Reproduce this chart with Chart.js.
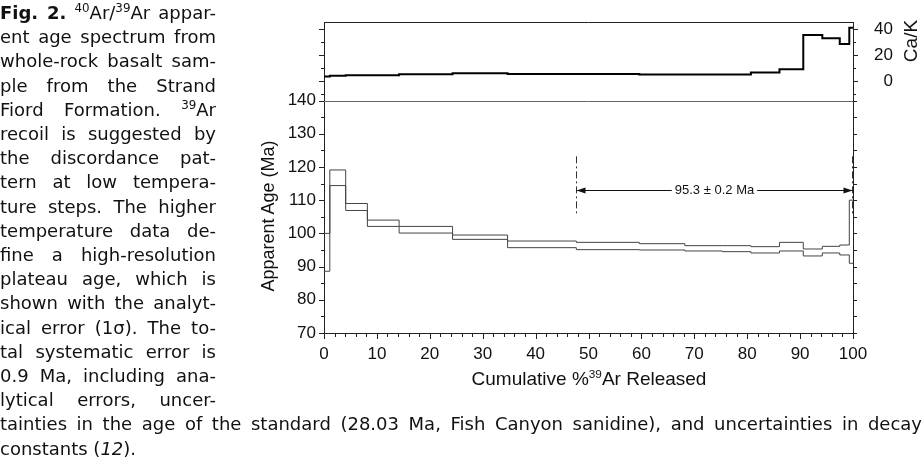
<!DOCTYPE html>
<html lang="en">
<head>
<meta charset="utf-8">
<title>Fig. 2 age spectrum</title>
<script src="https://cdn.jsdelivr.net/npm/chart.js@4.4.1/dist/chart.umd.min.js"></script>
<style>
  html, body { margin: 0; padding: 0; background: #fff; }
  body { position: relative; width: 924px; height: 462px; overflow: hidden; color: #111; }
  #ageChart { position: absolute; left: 0; top: 0; }
  .caption {
    position: absolute; left: 0; top: 1px;
    font-family: "DejaVu Sans", sans-serif; font-size: 18px; line-height: 24.2px;
  }
  .caption .line { width: 216px; white-space: nowrap; }
  .caption .line.wide { width: 922px; }
  .caption .line span { display: inline-block; transform-origin: 0 50%; }
  .caption sup { font-size: 0.66em; line-height: 0; vertical-align: 0.55em; }
  .axis-title {
    position: absolute; white-space: nowrap; color: #111;
    font-family: "Liberation Sans", Arial, sans-serif;
    transform: translate(-50%, -50%);
  }
  .axis-title.vertical { transform: translate(-50%, -50%) rotate(-90deg); }
  .axis-title sup { font-size: 0.62em; line-height: 0; vertical-align: 0.6em; }
</style>
</head>
<body>
<canvas id="ageChart" width="924" height="462"></canvas>

<div class="caption">
  <div class="line j"><span><b>Fig. 2.</b> <sup>40</sup>Ar/<sup>39</sup>Ar appar-</span></div>
  <div class="line j"><span>ent age spectrum from</span></div>
  <div class="line j"><span>whole-rock basalt sam-</span></div>
  <div class="line j"><span>ple from the Strand</span></div>
  <div class="line j"><span>Fiord Formation. <sup>39</sup>Ar</span></div>
  <div class="line j"><span>recoil is suggested by</span></div>
  <div class="line j"><span>the discordance pat-</span></div>
  <div class="line j"><span>tern at low tempera-</span></div>
  <div class="line j"><span>ture steps. The higher</span></div>
  <div class="line j"><span>temperature data de-</span></div>
  <div class="line j"><span>fine a high-resolution</span></div>
  <div class="line j"><span>plateau age, which is</span></div>
  <div class="line j"><span>shown with the analyt-</span></div>
  <div class="line j"><span>ical error (1σ). The to-</span></div>
  <div class="line j"><span>tal systematic error is</span></div>
  <div class="line j"><span>0.9 Ma, including ana-</span></div>
  <div class="line j"><span>lytical errors, uncer-</span></div>
  <div class="line wide j"><span>tainties in the age of the standard (28.03 Ma, Fish Canyon sanidine), and uncertainties in decay</span></div>
  <div class="line"><span>constants (<i>12</i>).</span></div>
</div>

<div class="axis-title vertical" style="left:268px; top:216px; font-size:18px;">Apparent Age (Ma)</div>
<div class="axis-title" style="left:589px; top:379px; font-size:19px;">Cumulative %<sup>39</sup>Ar Released</div>
<div class="axis-title vertical" style="left:911px; top:41px; font-size:19px;">Ca/K</div>

<script>
// heating steps: cumulative %39Ar at each step boundary
const stepEdges = [0, 1.1, 4.1, 8.2, 14.2, 24.3, 34.7, 47.7, 59.6, 68.2, 75.3, 80.7, 86.1, 90.6, 94.2, 97.5, 99.3, 100];
// apparent age (Ma), top and bottom of each 1 sigma box
const ageHigh = [100.0, 119.1, 109.0, 104.0, 102.1, 99.5, 97.7, 97.3, 96.9, 96.3, 96.3, 96.0, 97.3, 95.3, 96.1, 96.5, 110.0];
const ageLow = [88.6, 114.4, 106.9, 102.1, 100.1, 98.2, 95.7, 95.1, 95.0, 94.7, 94.5, 94.1, 94.7, 93.2, 94.1, 93.5, 91.0];
// Ca/K of each step
const caK = [3.5, 4.0, 4.5, 4.5, 5.3, 6.0, 5.5, 5.5, 5.0, 5.0, 5.0, 6.5, 9.0, 35.5, 33.0, 28.5, 41.0];

const xTickLabels = [0, 10, 20, 30, 40, 50, 60, 70, 80, 90, 100];
const ageTickLabels = [70, 80, 90, 100, 110, 120, 130, 140];
const caKTickLabels = [0, 20, 40];

// plateau age annotation
const plateau = { from: 47.7, to: 100, arrowAge: 113.1, top: 123.2, bottom: 105.4, label: "95.3 ± 0.2 Ma" };

// panel geometry (axis ranges)
const AGE_MIN = 70;
const AGE_TOP = 163.6;
const PANEL_SPLIT = 140;
const CAK_MIN = -193.9;
const CAK_MAX = 45.3;

// where the plot frame sits on the page
const frame = { left: 324, top: 16, right: 853, bottom: 333 };

Chart.defaults.font.family = '"Liberation Sans", Arial, sans-serif';
Chart.defaults.color = "#111";

function stepPoints(values) {
  const pts = values.map((v, i) => ({ x: stepEdges[i], y: v }));
  pts.push({ x: stepEdges[stepEdges.length - 1], y: values[values.length - 1] });
  return pts;
}

const axisMarks = {
  id: "axisMarks",
  afterDraw(chart) {
    const { ctx, chartArea: area } = chart;
    const { x, y, y2 } = chart.scales;
    const px = (v) => Math.round(v) + 0.5;
    const seg = (x1, y1, x2, yb) => {
      ctx.beginPath();
      ctx.moveTo(x1, y1);
      ctx.lineTo(x2, yb);
      ctx.stroke();
    };
    ctx.save();
    ctx.lineWidth = 1;
    ctx.strokeStyle = "#222";
    seg(area.left, px(area.top), area.right, px(area.top));

    ctx.strokeStyle = "#666";
    const split = px(y.getPixelForValue(PANEL_SPLIT));
    seg(area.left, split, area.right, split);

    ctx.strokeStyle = "#222";
    for (let v = 0; v <= 100; v += 2) {
      const p = px(x.getPixelForValue(v));
      seg(p, area.bottom, p, area.bottom + (v % 10 === 0 ? 6 : 4));
    }
    for (let v = AGE_MIN; v <= PANEL_SPLIT; v += 5) {
      const p = px(y.getPixelForValue(v));
      const len = v % 10 === 0 ? 5 : 3;
      seg(area.left - len, p, area.left, p);
      seg(area.right, p, area.right + 4, p);
    }
    for (let v = -10; v <= 40; v += 10) {
      const p = px(y2.getPixelForValue(v));
      const len = v % 20 === 0 ? 5 : 3;
      seg(area.left - len, p, area.left, p);
      seg(area.right, p, area.right + len, p);
    }

    // plateau bracket
    const x1 = px(x.getPixelForValue(plateau.from));
    const x2 = px(x.getPixelForValue(plateau.to)) - 1;
    const ya = px(y.getPixelForValue(plateau.arrowAge));
    const yt = y.getPixelForValue(plateau.top);
    const yb = y.getPixelForValue(plateau.bottom);
    ctx.strokeStyle = "#333";
    ctx.setLineDash([7, 3, 2, 3]);
    seg(x1, yt, x1, yb);
    seg(x2, yt, x2, yb);
    ctx.setLineDash([]);
    ctx.strokeStyle = "#111";
    seg(x1, ya, x2, ya);
    ctx.fillStyle = "#111";
    ctx.beginPath();
    ctx.moveTo(x1, ya);
    ctx.lineTo(x1 + 9, ya - 3);
    ctx.lineTo(x1 + 9, ya + 3);
    ctx.closePath();
    ctx.fill();
    ctx.beginPath();
    ctx.moveTo(x2, ya);
    ctx.lineTo(x2 - 9, ya - 3);
    ctx.lineTo(x2 - 9, ya + 3);
    ctx.closePath();
    ctx.fill();

    ctx.font = '13px "Liberation Sans", Arial, sans-serif';
    const w = ctx.measureText(plateau.label).width;
    const cx = (x1 + x2) / 2;
    ctx.fillStyle = "#fff";
    ctx.fillRect(cx - w / 2 - 3, ya - 8, w + 6, 16);
    ctx.fillStyle = "#111";
    ctx.textAlign = "center";
    ctx.textBaseline = "middle";
    ctx.fillText(plateau.label, cx, ya);
    ctx.restore();
  },
};

const ctx = document.getElementById("ageChart");
const chart = new Chart(ctx, {
  type: "line",
  data: {
    datasets: [
      {
        label: "Age +1σ",
        data: stepPoints(ageHigh),
        stepped: true,
        borderColor: "#444",
        borderWidth: 1,
        yAxisID: "y",
      },
      {
        label: "Age -1σ",
        data: stepPoints(ageLow),
        stepped: true,
        borderColor: "#444",
        borderWidth: 1,
        yAxisID: "y",
      },
      {
        label: "Ca/K",
        data: stepPoints(caK),
        stepped: true,
        borderColor: "#000",
        borderWidth: 2,
        yAxisID: "y2",
      },
    ],
  },
  options: {
    responsive: false,
    animation: false,
    devicePixelRatio: 1,
    layout: { autoPadding: false, padding: { left: 254, right: 31, top: 16, bottom: 89 } },
    elements: { point: { radius: 0, hoverRadius: 0 } },
    plugins: {
      legend: { display: false },
      tooltip: { enabled: false },
    },
    scales: {
      x: {
        type: "linear",
        min: 0,
        max: 100,
        afterFit: (s) => { s.height = 40; },
        afterBuildTicks: (s) => { s.ticks = xTickLabels.map((v) => ({ value: v })); },
        grid: { display: false, drawTicks: false },
        border: { color: "#222" },
        ticks: { padding: 11, font: { size: 17 }, maxRotation: 0, autoSkip: false, callback: (v) => String(v) },
      },
      y: {
        type: "linear",
        position: "left",
        min: AGE_MIN,
        max: AGE_TOP,
        afterFit: (s) => { s.width = 70; },
        afterBuildTicks: (s) => { s.ticks = ageTickLabels.map((v) => ({ value: v })); },
        grid: { display: false, drawTicks: false },
        border: { color: "#222" },
        ticks: { padding: 8, font: { size: 17 }, autoSkip: false, callback: (v) => String(v) },
      },
      y2: {
        type: "linear",
        position: "right",
        min: CAK_MIN,
        max: CAK_MAX,
        afterFit: (s) => { s.width = 40; },
        afterBuildTicks: (s) => { s.ticks = caKTickLabels.map((v) => ({ value: v })); },
        grid: { display: false, drawTicks: false },
        border: { color: "#222" },
        ticks: { padding: 12, crossAlign: "far", font: { size: 17 }, autoSkip: false, callback: (v) => String(v) },
      },
    },
  },
  plugins: [axisMarks],
});

// nudge the layout padding so the plot frame lands exactly on the reference frame
const pad = chart.options.layout.padding;
const area = chart.chartArea;
pad.left += frame.left - area.left;
pad.top += frame.top - area.top;
pad.right += area.right - frame.right;
pad.bottom += area.bottom - frame.bottom;
chart.update();

// justify caption lines to their column width, squeezing lines that run long
document.querySelectorAll(".caption .j").forEach((line) => {
  const span = line.firstElementChild;
  const gaps = span.textContent.split(" ").length - 1;
  const extra = line.clientWidth - span.getBoundingClientRect().width;
  if (extra >= 0 && gaps > 0) {
    span.style.wordSpacing = extra / gaps + "px";
  } else if (extra < 0) {
    span.style.transform = `scaleX(${line.clientWidth / (line.clientWidth - extra)})`;
  }
});
</script>
</body>
</html>
